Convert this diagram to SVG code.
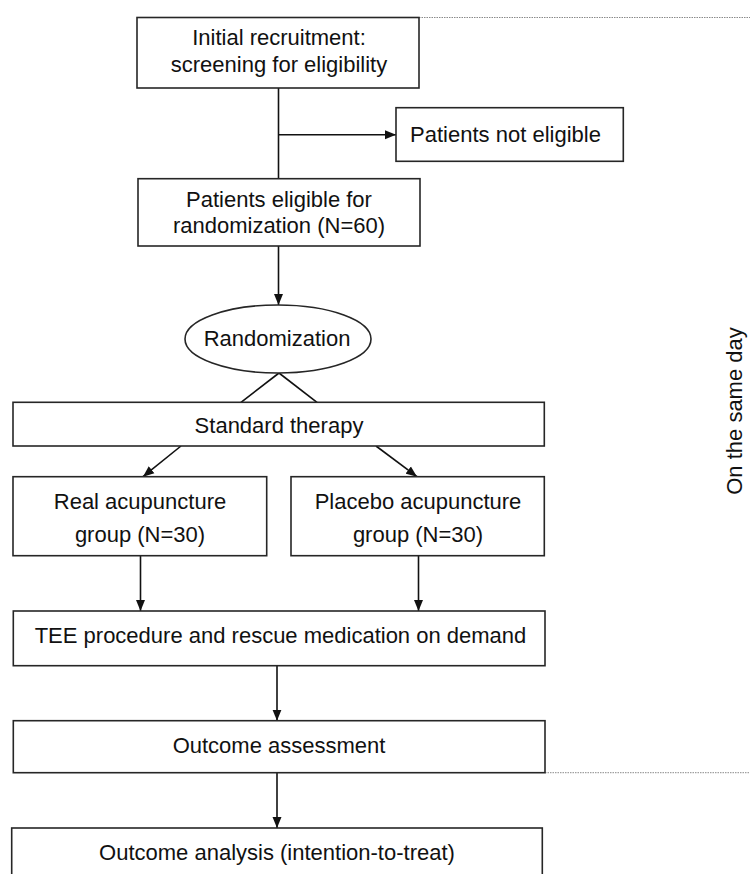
<svg xmlns="http://www.w3.org/2000/svg" width="750" height="874" viewBox="0 0 750 874">
  <style>
    .box { fill: #ffffff; stroke: #262626; stroke-width: 1.6; }
    .t { font-family: "Liberation Sans", Arial, sans-serif; font-size: 22px; fill: #111; text-anchor: middle; }
    .c { stroke: #111; stroke-width: 1.6; fill: none; }
    .dot { stroke: #8a8a8a; stroke-width: 1; stroke-dasharray: 1.5 1; fill: none; }
  </style>
  <defs>
    <marker id="arr" markerUnits="userSpaceOnUse" markerWidth="12" markerHeight="10" refX="11" refY="5" orient="auto">
      <path d="M0,0.5 L11,5 L0,9.5 z" fill="#111"/>
    </marker>
  </defs>
  <rect width="750" height="874" fill="#ffffff"/>

  <g id="connectors">
    <line class="c" x1="278.5" y1="88" x2="278.5" y2="178.7"/>
    <line class="c" x1="278.5" y1="134.7" x2="396" y2="134.7" marker-end="url(#arr)"/>
    <line class="c" x1="278.5" y1="246" x2="278.5" y2="305" marker-end="url(#arr)"/>
    <line class="c" x1="279" y1="373" x2="241" y2="402.3"/>
    <line class="c" x1="279" y1="373" x2="317" y2="402.3"/>
    <line class="c" x1="181" y1="446" x2="143" y2="476.7" marker-end="url(#arr)"/>
    <line class="c" x1="376" y1="446" x2="417" y2="476.7" marker-end="url(#arr)"/>
    <line class="c" x1="140.5" y1="555.7" x2="140.5" y2="611" marker-end="url(#arr)"/>
    <line class="c" x1="418.5" y1="555.7" x2="418.5" y2="611" marker-end="url(#arr)"/>
    <line class="c" x1="277" y1="665.7" x2="277" y2="720.7" marker-end="url(#arr)"/>
    <line class="c" x1="277" y1="772.7" x2="277" y2="828" marker-end="url(#arr)"/>
    <line class="dot" x1="419" y1="17.5" x2="750" y2="17.5"/>
    <line class="dot" x1="545" y1="772.7" x2="750" y2="772.7"/>
  </g>

  <g id="recruitment">
    <rect class="box" x="137" y="17.5" width="282" height="70.5"/>
    <text class="t" x="279" y="45">Initial recruitment:</text>
    <text class="t" x="279" y="72">screening for eligibility</text>
  </g>

  <g id="not-eligible">
    <rect class="box" x="396" y="107.7" width="227.3" height="53.6"/>
    <text class="t" x="505.5" y="141.7">Patients not eligible</text>
  </g>

  <g id="eligible">
    <rect class="box" x="138" y="178.7" width="282" height="67.3"/>
    <text class="t" x="279" y="206.7">Patients eligible for</text>
    <text class="t" x="279" y="233.3">randomization (N=60)</text>
  </g>

  <g id="randomization">
    <ellipse class="box" cx="278" cy="339" rx="93" ry="34"/>
    <text class="t" x="277" y="346">Randomization</text>
  </g>

  <g id="standard-therapy">
    <rect class="box" x="13" y="402.3" width="531.3" height="43.7"/>
    <text class="t" x="279" y="433.3">Standard therapy</text>
  </g>

  <g id="real-acupuncture">
    <rect class="box" x="13" y="476.7" width="253.7" height="79"/>
    <text class="t" x="140" y="509.3">Real acupuncture</text>
    <text class="t" x="140" y="541.7">group (N=30)</text>
  </g>

  <g id="placebo-acupuncture">
    <rect class="box" x="291" y="476.7" width="253.3" height="79"/>
    <text class="t" x="418" y="509.3">Placebo acupuncture</text>
    <text class="t" x="418" y="541.7">group (N=30)</text>
  </g>

  <g id="tee">
    <rect class="box" x="13.3" y="611" width="531.7" height="54.7"/>
    <text class="t" x="280.5" y="643">TEE procedure and rescue medication on demand</text>
  </g>

  <g id="assessment">
    <rect class="box" x="13.3" y="720.7" width="531.7" height="52"/>
    <text class="t" x="279" y="753">Outcome assessment</text>
  </g>

  <g id="analysis">
    <rect class="box" x="11.7" y="828" width="530.6" height="60"/>
    <text class="t" x="277" y="860">Outcome analysis (intention-to-treat)</text>
  </g>

  <g id="same-day-label">
    <text class="t" transform="translate(741.5,411) rotate(-90)">On the same day</text>
  </g>
</svg>
